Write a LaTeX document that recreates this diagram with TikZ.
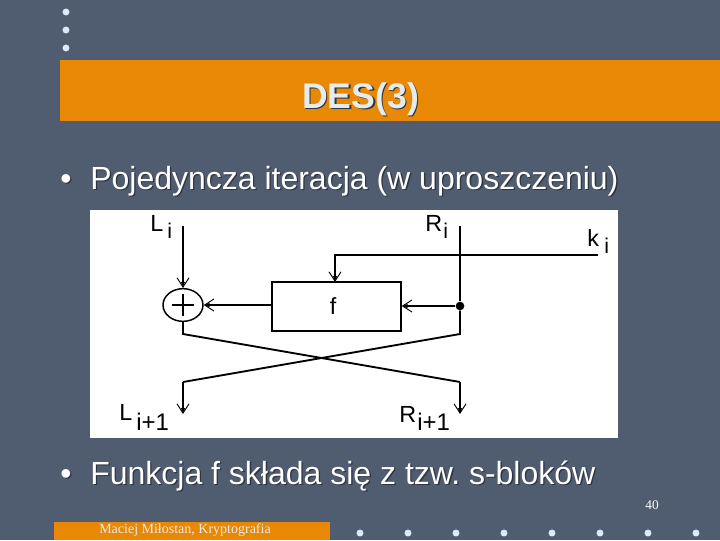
\documentclass[tikz,border=0pt]{standalone}
\usepackage{fontspec}
\setmainfont{Liberation Sans}
\newfontfamily\footfont{Liberation Serif}
\usetikzlibrary{arrows.meta,positioning,calc,shapes.geometric}
\definecolor{slidebg}{HTML}{505C70}
\definecolor{barorange}{HTML}{E88804}
\definecolor{dotblue}{HTML}{DCEAF8}
\definecolor{titlegray}{HTML}{E6ECEE}
\definecolor{shadowgray}{HTML}{2E3440}
\newcommand{\shtext}[2][1pt]{\leavevmode\rlap{\kern#1\raisebox{-#1}{\color{shadowgray}#2}}#2}
\frenchspacing

\begin{document}
\begin{tikzpicture}[
  x=0.75pt, y=-0.75pt,
  >=Latex,
  flow/.style={-{Straight Barb[length=7pt,width=9pt,line width=0.7pt,sep=-4.5pt]Latex[length=4.5pt,width=3.5pt]}, line width=1.4pt, black},
  wire/.style={line width=1.4pt, black},
  bar/.style={fill=barorange, draw=none},
  deco/.style={circle, fill=dotblue, draw=none, inner sep=0pt, minimum size=5.2pt},
  bullet/.style={anchor=base west, inner sep=0pt, text=white, font=\fontsize{24}{28}\selectfont},
  lab/.style={inner sep=0pt, anchor=base west, text=black, font=\fontsize{17.5}{20}\selectfont},
  sub/.style={inner sep=0pt, anchor=base west, text=black, font=\fontsize{16}{18}\selectfont},
  subwide/.style={inner sep=0pt, anchor=base west, text=black, font=\fontsize{18}{20}\selectfont}
]
\useasboundingbox (0,0) rectangle (720,540);
\fill[slidebg] (0,0) rectangle (720,540);

% Bars and dots of the slide
\fill[bar] (60,60) rectangle (720,121);
\fill[bar] (54,522) rectangle (330,540);
\foreach \dy in {12,30,48} \node[deco] (top\dy) at (66,\dy) {};
\foreach \dx in {360,408,...,696} \node[deco] (foot\dx) at (\dx,533) {};

% Texts of the slide
\node[anchor=base west, inner sep=0pt, text=titlegray, font=\bfseries\fontsize{26.7}{30}\selectfont] (title) at (302,108) {\shtext{DES(3)}};
\node[bullet] (b1) at (60,189) {\shtext{•}};
\node[bullet] (t1) at (90,189) {\shtext{Pojedyncza iteracja (w uproszczeniu)}};
\node[bullet] (b2) at (60,484) {\shtext{•}};
\node[bullet] (t2) at (90,484) {\shtext{Funkcja f składa się z tzw. s-bloków}};
\node[anchor=base, inner sep=0pt, text=white, font=\footfont\fontsize{10}{12}\selectfont] (page) at (652,509) {40};
\node[anchor=base west, inner sep=0pt, text=titlegray, font=\footfont\fontsize{10.5}{12}\selectfont] (foot) at (99,533) {Maciej Miłostan, Kryptografia};

% White panel of the scheme
\fill[white] (90,210) rectangle (618,438);

% Blocks
\node[draw, line width=1.1pt, minimum width=96.75pt, minimum height=36.75pt, inner sep=0pt, font=\fontsize{17.5}{20}\selectfont] (fbox) at (336.5,306.5) {f\kern5pt};
\node[draw, line width=1.1pt, ellipse, minimum width=30pt, minimum height=24.5pt, inner sep=0pt] (xor) at (183,305) {};
\draw[line width=1.1pt] ($(xor.center)+(-11,0)$) -- ($(xor.center)+(11,0)$);
\draw[line width=1.1pt] ($(xor.center)+(0,-11)$) -- ($(xor.center)+(0,11)$);
\node[circle, fill=black, inner sep=0pt, minimum size=6.5pt] (tap) at (460,306) {};

% Labels
\node[lab] (Li) at (150,231) {L};
\node[sub] (Lisub) at (167,238) {i};
\node[lab] (Ri) at (425,231) {R};
\node[sub] (Risub) at (443,238) {i};
\node[lab] (ki) at (587,246) {k};
\node[sub] (kisub) at (604,253) {i};
\node[lab] (Ln) at (119,420) {L};
\node[subwide] (Lnsub) at (136,430) {i+1};
\node[lab] (Rn) at (399,422) {R};
\node[subwide] (Rnsub) at (417,430) {i+1};

% Free ends of the lines
\coordinate (Lstart) at (183,226);
\coordinate (Rstart) at (460,226);
\coordinate (kstart) at (598,255);
\coordinate (kdrop) at (335,282);
\coordinate (Rcross) at (460,334);
\coordinate (Lcross) at (183,334);
\coordinate (Lturn) at (183,382);
\coordinate (Rturn) at (460,382);
\coordinate (Lend) at (183,414);
\coordinate (Rend) at (460,414);

\draw[flow] (Lstart) -- (xor.north);
\draw[flow] (fbox.west |- xor.east) -- (xor.east);
\draw[flow] (kstart) -| (kdrop);
\draw[flow] (tap) -- (fbox.east |- tap);
\draw[wire] (Rstart) -- (tap);
\draw[wire] (tap) -- (Rcross) -- (Lturn);
\draw[flow] (Lturn) -- (Lend);
\draw[wire] (xor.south) -- (Lcross) -- (Rturn);
\draw[flow] (Rturn) -- (Rend);

\end{tikzpicture}
\end{document}
